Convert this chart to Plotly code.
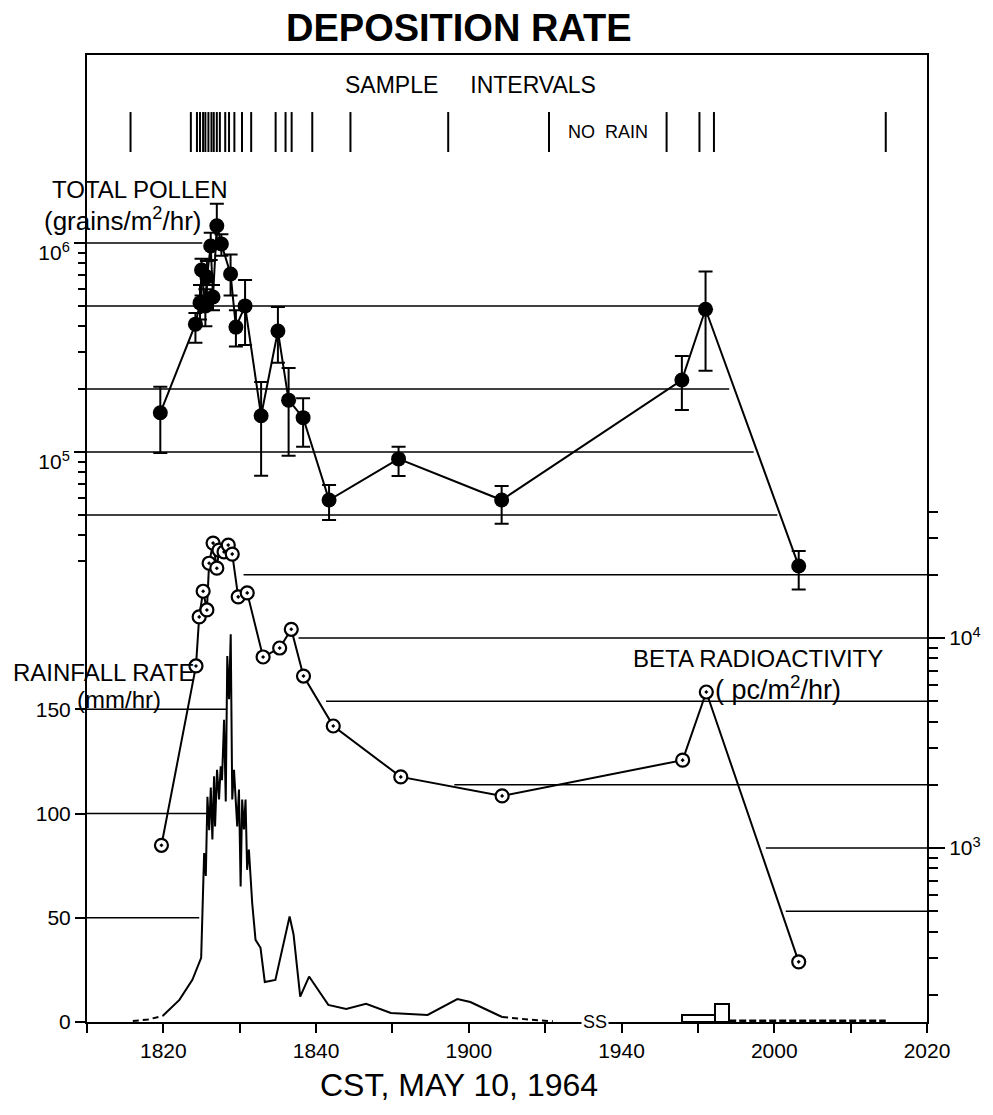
import plotly.graph_objects as go

# Clock times are minutes after 18:00 CST. The stretch 19:16-19:36 is cut out of the time axis.
BREAK_AT = 76.0
BREAK_LEN = 20.0


def axis_pos(t):
    return t if t <= BREAK_AT else t - BREAK_LEN


# ---- data -------------------------------------------------------------
sample_times = [15.7, 23.6, 24.4, 24.8, 25.2, 25.5, 25.9, 26.3, 26.6, 27.0, 27.4,
                28.1, 28.6, 29.3, 30.3, 31.5, 34.7, 36.0, 36.8, 39.5, 44.5, 57.3,
                70.5, 105.9, 110.2, 112.1, 134.6]

pollen_time = [19.6, 24.2, 24.8, 25.0, 25.5, 25.7, 26.2, 26.5, 27.0, 27.6, 28.8, 29.5,
               30.7, 32.8, 35.0, 36.4, 38.3, 41.7, 50.8, 64.3, 107.9, 111.0, 123.2]
pollen_rate = [1.54e5, 4.09e5, 5.17e5, 7.43e5, 5.0e5, 6.87e5, 9.68e5, 5.52e5, 1.21e6,
               9.89e5, 7.11e5, 3.96e5, 5.0e5, 1.49e5, 3.79e5, 1.77e5, 1.46e5, 5.89e4,
               9.27e4, 5.89e4, 2.21e5, 4.82e5, 2.85e4]
pollen_high = [2.05e5, 4.63e5, 6.3e5, 8.4e5, 6.0e5, 8.2e5, 1.12e6, 6.3e5, 1.54e6,
               1.1e6, 8.8e5, 4.77e5, 6.65e5, 2.16e5, 4.94e5, 2.52e5, 1.81e5, 6.95e4,
               1.06e5, 6.87e4, 2.88e5, 7.3e5, 3.36e4]
pollen_low = [0.99e5, 3.33e5, 4.3e5, 5.6e5, 4.0e5, 5.5e5, 8.3e5, 4.77e5, 1.0e6,
              8.7e5, 5.6e5, 3.2e5, 3.25e5, 7.7e4, 2.67e5, 9.6e4, 1.06e5, 4.73e4,
              7.67e4, 4.53e4, 1.59e5, 2.45e5, 2.2e4]

beta_time = [19.75, 24.27, 24.69, 25.21, 25.70, 25.99, 26.51, 27.0, 27.29, 27.95, 28.5,
             29.02, 29.8, 30.98, 33.06, 35.23, 36.75, 38.35, 42.25, 51.09, 64.36,
             108.0, 111.1, 123.2]
beta_rate = [1030, 7360, 12600, 16700, 13600, 22700, 28300, 21500, 26200, 25700, 27700,
             25100, 15700, 16400, 8120, 8960, 11000, 6590, 3810, 2180, 1770,
             2620, 5530, 287]

rain_time = [19.9, 22.1, 23.8, 24.95, 25.34, 25.56, 25.77, 26.0, 26.21, 26.42, 26.64,
             26.77, 27.03, 27.29, 27.51, 27.68, 27.95, 28.17, 28.37, 28.6, 28.82,
             29.02, 29.25, 29.47, 29.67, 29.9, 30.12, 30.32, 30.55, 30.76, 30.97,
             31.2, 31.63, 32.07, 32.72, 33.28, 34.67, 36.53, 37.05, 37.92, 39.08,
             41.6, 43.94, 46.54, 49.79, 54.6, 58.5, 60.2, 64.36]
rain_rate = [2.9, 10.6, 20.2, 30.8, 81, 70, 108, 92, 112.5, 87.5, 117.8, 93.8, 121,
             106.7, 122.6, 116, 145, 105.8, 175.5, 154.8, 186, 106.7, 121, 106.7,
             93.8, 111.5, 65, 106.7, 92.3, 106.7, 73, 82.7, 57.2, 39.4, 35.6, 19.2,
             20.2, 50.6, 42, 12.2, 21.8, 8.2, 6.3, 8.7, 4.3, 3.4, 11, 9.6, 2.4]

# estimated (dashed) stretches of the rain record
rain_lead_time = [16.0, 18.0, 19.9]
rain_lead_rate = [0.5, 1.2, 2.9]
rain_trail_time = [64.36, 66.5, 69.0, 71.0]
rain_trail_rate = [2.4, 1.5, 0.8, 0.4]
rain_late_time = [114.1, 134.6]
rain_late_rate = [0.6, 0.6]

# late light showers, shown as blocks
rain_block_start = [107.9, 112.2]
rain_block_end = [112.2, 114.1]
rain_block_rate = [3.5, 8.5]

x_tick_times = [10, 20, 30, 40, 50, 60, 70, 100, 110, 120, 130, 140]
x_tick_labels = ["", "1820", "", "1840", "", "1900", "", "1940", "", "2000", "", "2020"]

pollen_major = [1e5, 1e6]
pollen_major_text = ["10<sup>5</sup>", "10<sup>6</sup>"]
pollen_minor = [3e4, 4e4, 5e4, 6e4, 7e4, 8e4, 9e4,
                2e5, 3e5, 4e5, 5e5, 6e5, 7e5, 8e5, 9e5]
beta_major = [1e3, 1e4]
beta_major_text = ["10<sup>3</sup>", "10<sup>4</sup>"]
beta_minor = [2e2, 3e2, 4e2, 5e2, 6e2, 7e2, 8e2, 9e2,
              2e3, 3e3, 4e3, 5e3, 6e3, 7e3, 8e3, 9e3, 2e4, 3e4, 4e4]
rain_ticks = [0, 50, 100, 150]

# reference levels drawn across part of the panel
pollen_levels = [1e6, 5e5, 2e5, 1e5, 5e4]
beta_levels = [2e4, 1e4, 5e3, 2e3, 1e3, 5e2]
rain_levels = [150, 100, 50]

# ---- figure -----------------------------------------------------------
FONT = "Liberation Sans, Arial, sans-serif"
INK = "black"

# how far each drafted level line runs along the time axis
pollen_line_end = [25.1, 90.6, 94.1, 97.3, 100.4]
beta_line_start = [30.5, 37.7, 41.3, 58.1, 98.9, 101.5]
rain_line_end = [28.3, 25.6, 24.7]

fig = go.Figure()

# drafted level lines (beneath everything else)
grid = dict(mode="lines", line=dict(color=INK, width=1.5), hoverinfo="skip")
for lvl, u_end in zip(pollen_levels, pollen_line_end):
    fig.add_trace(go.Scatter(x=[10, u_end], y=[lvl, lvl], yaxis="y2", **grid))
for lvl, u_start in zip(beta_levels, beta_line_start):
    fig.add_trace(go.Scatter(x=[u_start, 120], y=[lvl, lvl], yaxis="y3", **grid))
for lvl, u_end in zip(rain_levels, rain_line_end):
    fig.add_trace(go.Scatter(x=[10, u_end], y=[lvl, lvl], yaxis="y", **grid))

# rainfall
dash = "6px,4px"
fig.add_trace(go.Scatter(x=[axis_pos(t) for t in rain_lead_time], y=rain_lead_rate,
                         mode="lines", line=dict(color=INK, width=2, dash=dash),
                         yaxis="y", hoverinfo="skip"))
fig.add_trace(go.Scatter(x=[axis_pos(t) for t in rain_time], y=rain_rate,
                         mode="lines", line=dict(color=INK, width=2),
                         yaxis="y", hoverinfo="skip"))
fig.add_trace(go.Scatter(x=[axis_pos(t) for t in rain_trail_time], y=rain_trail_rate,
                         mode="lines", line=dict(color=INK, width=2, dash=dash),
                         yaxis="y", hoverinfo="skip"))
fig.add_trace(go.Scatter(x=[axis_pos(t) for t in rain_late_time], y=rain_late_rate,
                         mode="lines", line=dict(color=INK, width=2.5, dash="7px,3px"),
                         yaxis="y", hoverinfo="skip"))
fig.add_trace(go.Bar(x=[axis_pos((s + e) / 2) for s, e in zip(rain_block_start, rain_block_end)],
                     y=rain_block_rate,
                     width=[e - s for s, e in zip(rain_block_start, rain_block_end)],
                     marker=dict(color="white", line=dict(color=INK, width=2)),
                     yaxis="y", hoverinfo="skip"))

# total pollen with error bars
fig.add_trace(go.Scatter(
    x=[axis_pos(t) for t in pollen_time], y=pollen_rate, yaxis="y2",
    mode="lines+markers",
    line=dict(color=INK, width=2),
    marker=dict(symbol="circle", size=15, color=INK),
    error_y=dict(type="data", symmetric=False,
                 array=[h - v for h, v in zip(pollen_high, pollen_rate)],
                 arrayminus=[v - l for v, l in zip(pollen_rate, pollen_low)],
                 color=INK, thickness=2, width=7),
    hoverinfo="skip"))

# beta radioactivity
fig.add_trace(go.Scatter(
    x=[axis_pos(t) for t in beta_time], y=beta_rate, yaxis="y3",
    mode="lines+markers",
    line=dict(color=INK, width=2),
    marker=dict(symbol="circle-dot", size=13, color="white",
                line=dict(color=INK, width=2.2)),
    hoverinfo="skip"))

# sample interval markers
shapes = [dict(type="line", xref="x", yref="paper",
               x0=axis_pos(t), x1=axis_pos(t), y0=0.8997, y1=0.941,
               line=dict(color=INK, width=2))
          for t in sample_times]

no_rain_x = (axis_pos(sample_times[22]) + axis_pos(sample_times[23])) / 2


def label(text, x, y, size, xanchor="left", xref="paper", yref="paper", weight="normal", **kw):
    return dict(text=text, x=x, y=y, xref=xref, yref=yref, showarrow=False,
                xanchor=xanchor, yanchor="middle",
                font=dict(size=size, family=FONT, color=INK, weight=weight), **kw)


nb = "\u00a0"
annotations = [
    label("DEPOSITION RATE", 0.443, 1.028, 38, xanchor="center", weight="bold"),
    label("SAMPLE" + nb * 5 + "INTERVALS", 0.456, 0.969, 23, xanchor="center"),
    label("NO" + nb * 2 + "RAIN", no_rain_x, 0.9204, 18, xanchor="center", xref="x"),
    label("TOTAL POLLEN", -0.0437, 0.8614, 24),
    label("(grains/m<sup>2</sup>/hr)", -0.053, 0.8304, 26),
    label("RAINFALL RATE", -0.091, 0.3619, 24),
    label("(mm/hr)", -0.0142, 0.3331, 24),
    label("BETA RADIOACTIVITY", 0.6478, 0.3764, 24),
    label("(" + nb + "pc/m<sup>2</sup>/hr)", 0.745, 0.3454, 27),
    label("CST, MAY 10, 1964", 0.443, -0.065, 32, xanchor="center"),
    label("SS", axis_pos(BREAK_AT) + 0.5, 0, 18, xanchor="center", xref="x", yref="y",
          bgcolor="white"),
]

fig.update_layout(
    width=993, height=1115,
    margin=dict(l=87, r=60, t=55, b=93),
    paper_bgcolor="white", plot_bgcolor="white",
    showlegend=False, bargap=0,
    font=dict(family=FONT, size=20, color=INK),
    shapes=shapes, annotations=annotations,
    xaxis=dict(range=[10, 120], tickmode="array",
               tickvals=[axis_pos(t) for t in x_tick_times], ticktext=x_tick_labels,
               ticks="outside", ticklen=9, tickwidth=2, tickcolor=INK,
               showline=True, linewidth=2, linecolor=INK, mirror=True,
               showgrid=False, zeroline=False, tickfont=dict(size=21)),
    yaxis=dict(range=[0, 463.8], tickmode="array", tickvals=rain_ticks,
               ticks="outside", ticklen=10, tickwidth=2, tickcolor=INK,
               showline=True, linewidth=2, linecolor=INK,
               showgrid=False, zeroline=False, tickfont=dict(size=21)),
    yaxis2=dict(type="log", range=[2.2727, 6.8995], overlaying="y", side="left",
                anchor="x", tickmode="array", tickvals=pollen_major,
                ticktext=pollen_major_text, ticks="outside", ticklen=12,
                tickwidth=2, tickcolor=INK, showline=False, showgrid=False,
                zeroline=False, tickfont=dict(size=21), ticklabelshift=10,
                minor=dict(tickmode="array", tickvals=pollen_minor, ticks="outside",
                           ticklen=8, tickwidth=1.5, tickcolor=INK, showgrid=False)),
    yaxis3=dict(type="log", range=[2.1714, 6.7762], overlaying="y", side="right",
                anchor="x", tickmode="array", tickvals=beta_major,
                ticktext=beta_major_text, ticks="outside", ticklen=16,
                tickwidth=2, tickcolor=INK, showline=True, linewidth=2,
                linecolor=INK, showgrid=False, zeroline=False,
                tickfont=dict(size=21),
                minor=dict(tickmode="array", tickvals=beta_minor, ticks="outside",
                           ticklen=9, tickwidth=1.5, tickcolor=INK, showgrid=False)),
)

fig.write_html("out.html")
